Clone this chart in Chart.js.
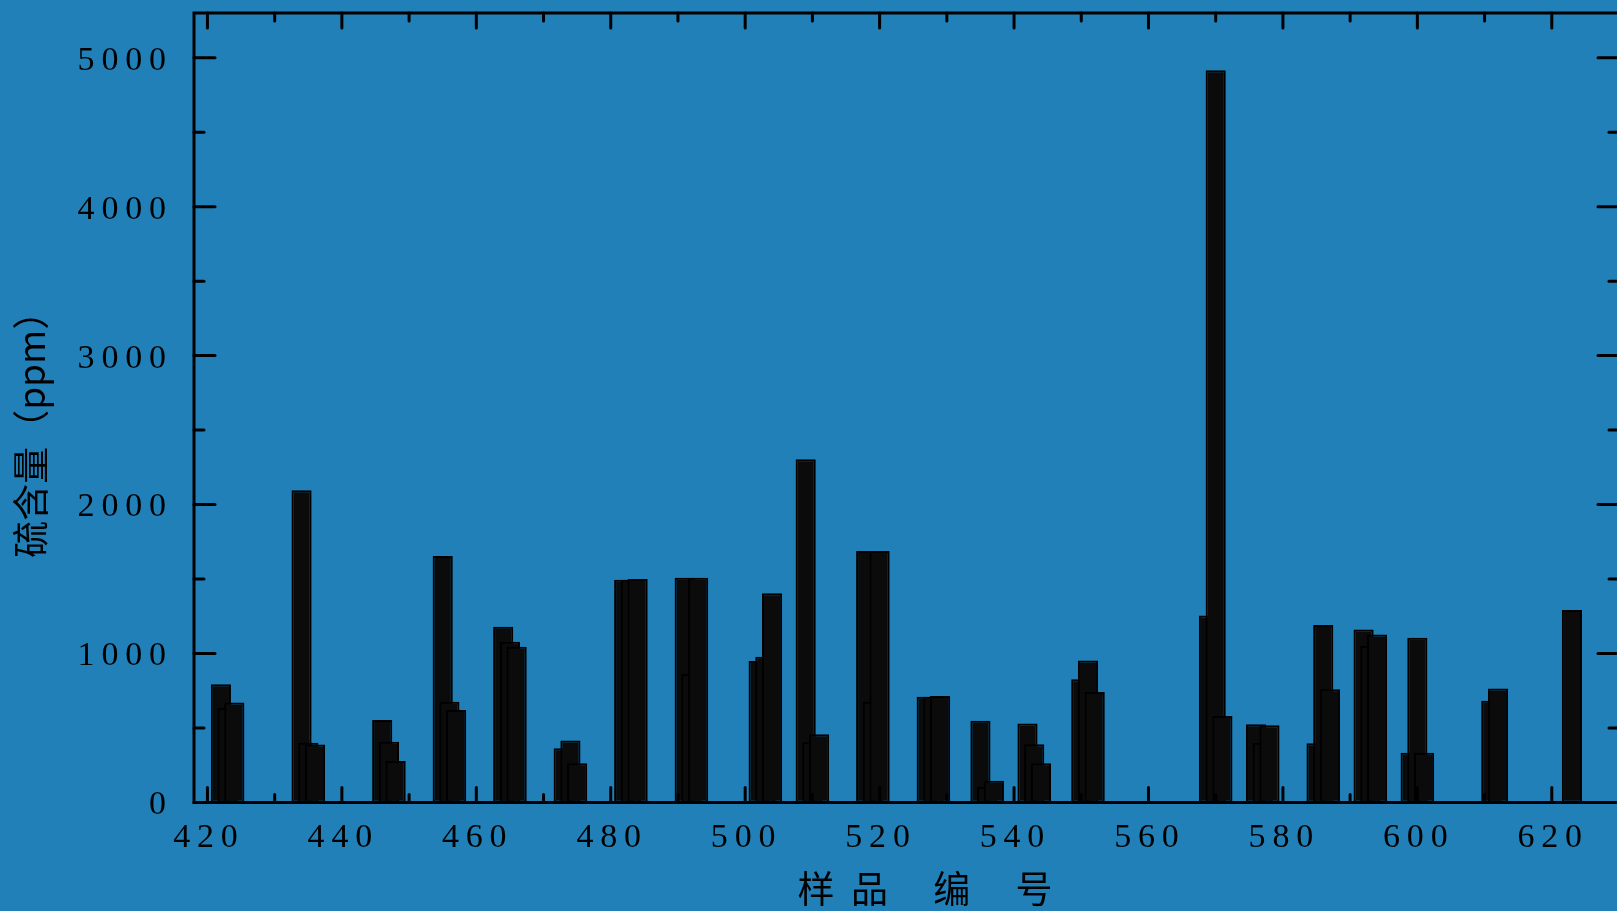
<!DOCTYPE html>
<html>
<head>
<meta charset="utf-8">
<title>硫含量</title>
<script src="https://cdn.jsdelivr.net/npm/chart.js@4.4.1/dist/chart.umd.min.js"></script>
<style>
    html, body { margin: 0; padding: 0; background: #2180b8; overflow: hidden; }
    #wrap { width: 1640px; height: 911px; }
</style>
</head>
<body>
<div id="wrap"><canvas id="chart_sulfur" width="1640" height="911"></canvas></div>
<script>
// sample numbers and sulfur content (ppm)
var samples = [422, 423, 424, 434, 435, 436, 446, 447, 448, 455, 456, 457,
    464, 465, 466, 473, 474, 475, 482, 483, 484, 491, 492, 493,
    502, 503, 504, 509, 510, 511, 518, 519, 520, 527, 528, 529,
    535, 536, 537, 542, 543, 544, 550, 551, 552, 569, 570, 571,
    576, 577, 578, 585, 586, 587, 592, 593, 594, 599, 600, 601,
    611, 612, 623];
var sulfur = [793, 636, 672, 2097, 401, 390, 554, 408, 279, 1654, 677, 621,
    1180, 1079, 1046, 364, 417, 263, 1495, 1495, 1500, 1509, 862, 1509,
    950, 979, 1404, 2305, 404, 458, 1688, 677, 1688, 710, 710, 715,
    549, 106, 146, 531, 391, 263, 827, 954, 742, 1256, 4916, 581,
    525, 401, 518, 397, 1191, 760, 1162, 1050, 1128, 334, 1106, 334,
    683, 766, 1292];

var xTickValues = [420, 440, 460, 480, 500, 520, 540, 560, 580, 600, 620];
var xTickLabels = ['420', '440', '460', '480', '500', '520', '540', '560', '580', '600', '620'];
var xMinorValues = [430, 450, 470, 490, 510, 530, 550, 570, 590, 610];
var yTickValues = [0, 1000, 2000, 3000, 4000, 5000];
var yTickLabels = ['0', '1000', '2000', '3000', '4000', '5000'];
var yMinorValues = [500, 1500, 2500, 3500, 4500];

var bgColor = '#2180b8';

function spaced(s) {
    return s.split('').join('\u2009');
}

//==============================================================
// frame with inward ticks on all four sides
var frameTicks = {
    id: 'frameTicks',
    beforeDraw: function (chart) {
        var ctx = chart.ctx;
        ctx.save();
        ctx.fillStyle = bgColor;
        ctx.fillRect(0, 0, chart.width, chart.height);
        ctx.restore();
    },
    afterDatasetsDraw: function (chart) {
        var ctx = chart.ctx;
        var a = chart.chartArea;
        var xs = chart.scales.x, ys = chart.scales.y;
        function line(x1, y1, x2, y2) {
            ctx.beginPath();
            ctx.moveTo(x1, y1);
            ctx.lineTo(x2, y2);
            ctx.stroke();
        }
        ctx.save();
        ctx.strokeStyle = '#000';
        ctx.lineWidth = 3;
        ctx.lineCap = 'round';
        xTickValues.forEach(function (v) {
            var px = xs.getPixelForValue(v);
            line(px, a.bottom, px, a.bottom - 15);
            line(px, a.top, px, a.top + 15);
        });
        xMinorValues.forEach(function (v) {
            var px = xs.getPixelForValue(v);
            line(px, a.bottom, px, a.bottom - 8);
            line(px, a.top, px, a.top + 8);
        });
        yTickValues.forEach(function (v) {
            var py = ys.getPixelForValue(v);
            line(a.left, py, a.left + 21, py);
            line(a.right, py, a.right - 21, py);
        });
        yMinorValues.forEach(function (v) {
            var py = ys.getPixelForValue(v);
            line(a.left, py, a.left + 10, py);
            line(a.right, py, a.right - 10, py);
        });
        ctx.lineCap = 'butt';
        ctx.strokeRect(a.left, a.top, a.right - a.left, a.bottom - a.top);
        ctx.restore();
    }
};

var points = samples.map(function (s, i) { return {x: s, y: sulfur[i]}; });

var barChartCanvas = document.getElementById('chart_sulfur').getContext('2d');
var barChart = new Chart(barChartCanvas, {
    type: 'bar',
    data: {
        datasets: [{
            label: '硫含量',
            data: points,
            backgroundColor: '#0b0b0b',
            borderColor: '#000',
            borderWidth: 2,
            borderSkipped: false,
            barPercentage: 1,
            categoryPercentage: 3
        }]
    },
    options: {
        responsive: false,
        animation: false,
        layout: {padding: {top: 13, right: 21, left: 0, bottom: 0}},
        plugins: {
            legend: {display: false},
            tooltip: {enabled: false}
        },
        scales: {
            x: {
                type: 'linear',
                min: 418,
                max: 630,
                offset: false,
                grid: {display: false},
                border: {display: false},
                afterBuildTicks: function (scale) {
                    scale.ticks = xTickValues.map(function (v) { return {value: v}; });
                },
                afterFit: function (scale) {
                    scale.height = 108.5;
                    scale.paddingLeft = 0;
                    scale.paddingRight = 0;
                },
                ticks: {
                    color: '#000',
                    padding: 7,
                    labelOffset: -2,
                    maxRotation: 0,
                    autoSkip: false,
                    font: {family: '"Liberation Serif", serif', size: 34},
                    callback: function (value) {
                        var i = xTickValues.indexOf(value);
                        return i < 0 ? '' : spaced(xTickLabels[i]);
                    }
                },
                title: {
                    display: true,
                    text: '\u3000样  品\u3000 编\u3000 号',
                    color: '#000',
                    padding: {top: 0, bottom: 0},
                    font: {family: '"Noto Sans CJK SC", sans-serif', size: 37, weight: 'normal'}
                }
            },
            y: {
                min: 0,
                max: 5300,
                grid: {display: false},
                border: {display: false},
                afterBuildTicks: function (scale) {
                    scale.ticks = yTickValues.map(function (v) { return {value: v}; });
                },
                afterFit: function (scale) {
                    scale.width = 194;
                    scale.paddingTop = 0;
                    scale.paddingBottom = 0;
                },
                ticks: {
                    color: '#000',
                    padding: 20,
                    labelOffset: 3,
                    autoSkip: false,
                    font: {family: '"Liberation Serif", serif', size: 34},
                    callback: function (value) {
                        var i = yTickValues.indexOf(value);
                        return i < 0 ? '' : spaced(yTickLabels[i]);
                    }
                },
                title: {
                    display: true,
                    text: '硫含量（ppm）\u3000  ',
                    color: '#000',
                    padding: {top: 9, bottom: 0},
                    font: {family: '"Noto Sans CJK SC", sans-serif', size: 37, weight: 'normal'}
                }
            }
        }
    },
    plugins: [frameTicks]
});
</script>
</body>
</html>
